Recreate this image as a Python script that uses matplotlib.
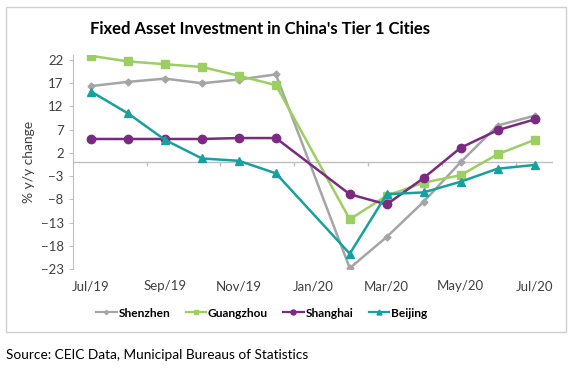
import numpy as np
import pandas as pd
import matplotlib.pyplot as plt
from matplotlib.patches import Rectangle
from matplotlib.lines import Line2D

plt.rcParams['font.family'] = ['Lato', 'DejaVu Sans']

# Monthly categories (Jan/20 not reported separately -> combined with Feb)
months = ['Jul/19', 'Aug/19', 'Sep/19', 'Oct/19', 'Nov/19', 'Dec/19', 'Jan/20',
          'Feb/20', 'Mar/20', 'Apr/20', 'May/20', 'Jun/20', 'Jul/20']
shenzhen = [16.4, 17.3, 18.0, 17.0, 17.8, 18.9, np.nan, -22.8, -16.1, -8.5, 0.0, 7.9, 10.0]
guangzhou = [22.9, 21.7, 21.1, 20.5, 18.6, 16.6, np.nan, -12.3, -7.2, -4.4, -2.8, 1.7, 4.8]
shanghai = [5.0, 5.0, 5.0, 5.0, 5.2, 5.2, np.nan, -6.9, -9.1, -3.4, 3.1, 6.9, 9.2]
beijing = [15.2, 10.5, 4.8, 0.8, 0.3, -2.4, np.nan, -19.7, -6.9, -6.5, -4.2, -1.4, -0.6]
yticks = [22, 17, 12, 7, 2, -3, -8, -13, -18, -23]

series = [
    ('Shenzhen', shenzhen, '#A5A5A5', 'D', 3.5),
    ('Guangzhou', guangzhou, '#9CCF62', 's', 5.5),
    ('Shanghai', shanghai, '#7A2A80', 'o', 6),
    ('Beijing', beijing, '#17A0A0', '^', 6),
]

fig = plt.figure(figsize=(5.75, 3.71), dpi=100)
fig.patches.append(Rectangle((0.0104, 0.105), 0.974, 0.876, transform=fig.transFigure,
                             fill=False, edgecolor='#D0D0D0', linewidth=1))

ax = fig.add_axes([0.1264, 0.2749, 0.8353, 0.5758])
x = np.arange(len(months))

handles = []
for name, vals, color, mk, ms in series:
    s = pd.Series(vals, index=x).dropna()
    ax.plot(s.index, s.values, color=color, marker=mk, markersize=ms, linewidth=1.8)
    handles.append(Line2D([], [], color=color, marker=mk, markersize=ms * 0.6,
                          linewidth=1.6, label=name))

ax.set_xlim(-0.5, len(months) - 0.5)
ax.set_ylim(-23, 23)
ax.set_yticks(yticks)
ax.tick_params(axis='y', labelsize=9.5, colors='#404040', length=3, color='#BFBFBF')
ax.set_xticks(x[::2])
ax.set_xticklabels(months[::2])
ax.tick_params(axis='x', labelsize=9.5, colors='#404040', length=0, pad=8)

# zero axis line with tick marks between categories
ax.axhline(0, color='#BFBFBF', linewidth=1, zorder=0)
ax.vlines(x[1:-1:2] + 0.5, -0.9, 0, color='#BFBFBF', linewidth=1, zorder=0)

for side in ['top', 'right', 'bottom']:
    ax.spines[side].set_visible(False)
ax.spines['left'].set_color('#BFBFBF')

ax.set_ylabel('% y/y change', fontsize=10, color='#404040', labelpad=4)

fig.text(0.452, 0.922, "Fixed Asset Investment in China's Tier 1 Cities",
         ha='center', va='center', fontsize=12, fontweight='bold', color='#000000')

fig.legend(handles=handles, loc='center', bbox_to_anchor=(0.455, 0.156), ncol=4,
           frameon=False, handlelength=1.7, handletextpad=0.15,
           columnspacing=1.3, prop={'weight': 'bold', 'size': 8.6})

fig.text(0.0104, 0.043, 'Source: CEIC Data, Municipal Bureaus of Statistics',
         ha='left', va='center', fontsize=9.8, color='#000000')

fig.savefig('out.png', dpi=100)
